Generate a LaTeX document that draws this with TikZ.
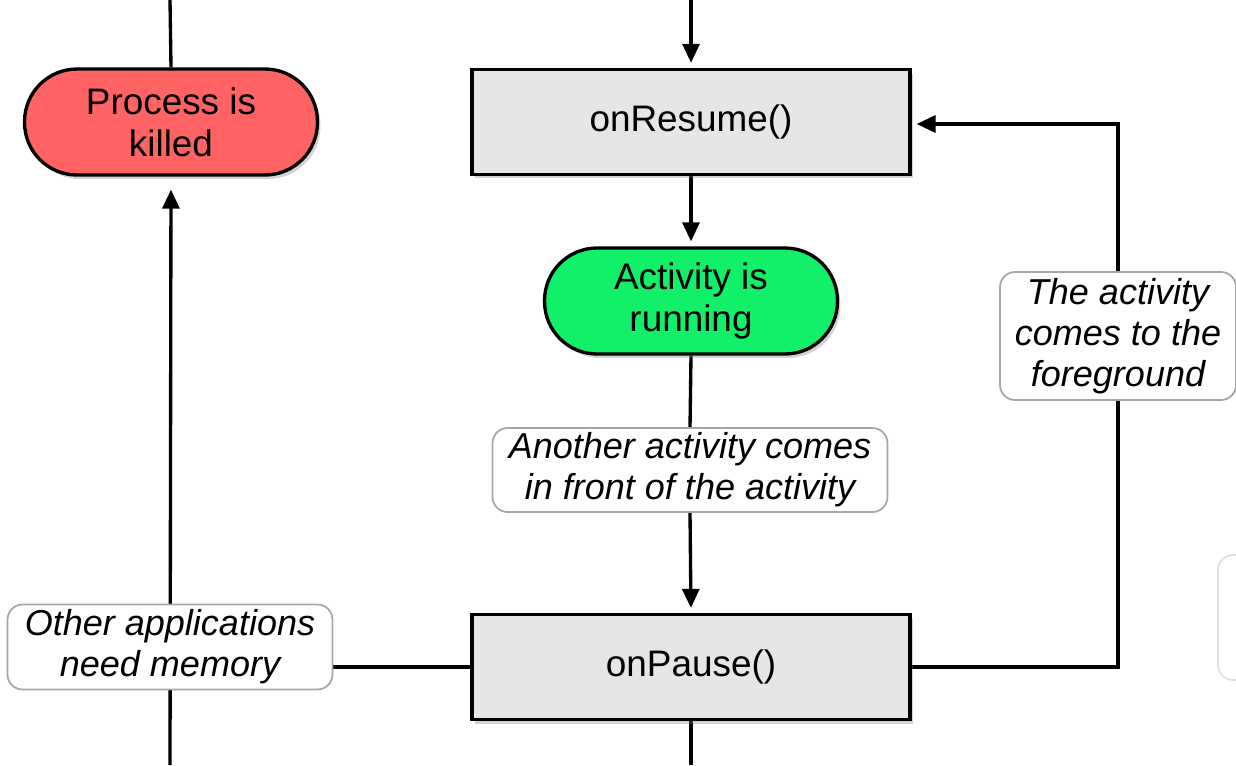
\documentclass[tikz,border=0pt]{standalone}
\usepackage{fontspec}
\setmainfont{Liberation Sans}
\usepackage{tikz}
\usetikzlibrary{arrows.meta,shadows}
\pgfdeclarelayer{background}
\pgfsetlayers{background,main}

\definecolor{killedred}{HTML}{FF6363}
\definecolor{runninggreen}{HTML}{12F06A}
\definecolor{callgray}{HTML}{E6E6E6}

\tikzset{
  every node/.style={font=\fontsize{21}{24}\selectfont, align=center},
  state/.style={draw=black, line width=1.9pt, rounded corners=1.05cm,
    minimum width=5.86cm, minimum height=2.12cm, inner sep=0pt,
    drop shadow={opacity=0.35, shadow xshift=0.06cm, shadow yshift=-0.08cm}},
  callback/.style={draw=black, line width=1.9pt, fill=callgray,
    minimum width=8.76cm, minimum height=2.1cm, inner sep=0pt,
    drop shadow={opacity=0.35, shadow xshift=0.06cm, shadow yshift=-0.08cm}},
  cause/.style={draw=gray!70, line width=1pt, fill=white, rounded corners=0.3cm,
    font=\fontsize{20.5}{23.5}\selectfont\itshape, inner sep=0pt},
  flow/.style={line width=1.9pt},
  arrowflow/.style={flow, -{Triangle[length=0.38cm, width=0.34cm]}},
}

\begin{document}
\begin{tikzpicture}[x=0.02cm, y=-0.02cm]
\useasboundingbox (0,0) rectangle (1236,765);

% states and callbacks
\node[state, fill=killedred] (killed) at (171,122) {Process is\\killed};
\node[callback] (resume) at (691,122) {onResume()};
\node[state, fill=runninggreen] (running) at (691,301) {Activity is\\running};
\node[callback] (pause) at (691,667) {onPause()};

% transition labels
\node[cause, minimum width=7.9cm, minimum height=1.68cm] (front) at (690,470) {Another activity comes\\in front of the activity};
\node[cause, minimum width=6.5cm, minimum height=1.7cm] (memory) at (170,647) {Other applications\\need memory};
\node[cause, minimum width=4.72cm, minimum height=2.56cm] (foreground) at (1118,336) {The activity\\comes to the\\foreground};

\coordinate (topleft) at (170,0);
\coordinate (topmid) at (691,0);
\coordinate (botleft) at (170,765);
\coordinate (botmid) at (691,765);
\coordinate (turnlow) at (1118,667);
\coordinate (turnhigh) at (1118,124);

% cut off label at the right edge
\begin{scope}
\clip (0,0) rectangle (1236,765);
\draw[gray!25, line width=1pt, rounded corners=0.3cm, fill=white] (1218,555) rectangle (1290,680);
\end{scope}

\begin{pgfonlayer}{background}
\draw[flow] (topleft) -- (killed.north);
\draw[arrowflow, shorten >=0.26cm] (botleft) -- (killed.south);
\draw[flow] (memory.east |- pause.west) -- (pause.west);
\draw[arrowflow, shorten >=0.1cm] (topmid) -- (resume.north);
\draw[arrowflow, shorten >=0.1cm] (resume.south) -- (running.north);
\draw[flow] (running.south) -- (front.north);
\draw[arrowflow, shorten >=0.1cm] (front.south) -- (pause.north);
\draw[flow] (pause.south) -- (botmid);
\draw[flow] (pause.east) -- (turnlow) -- (foreground.south);
\draw[arrowflow, shorten >=0.1cm] (foreground.north) -- (turnhigh) -- (resume.east |- turnhigh);
\end{pgfonlayer}
\end{tikzpicture}
\end{document}
